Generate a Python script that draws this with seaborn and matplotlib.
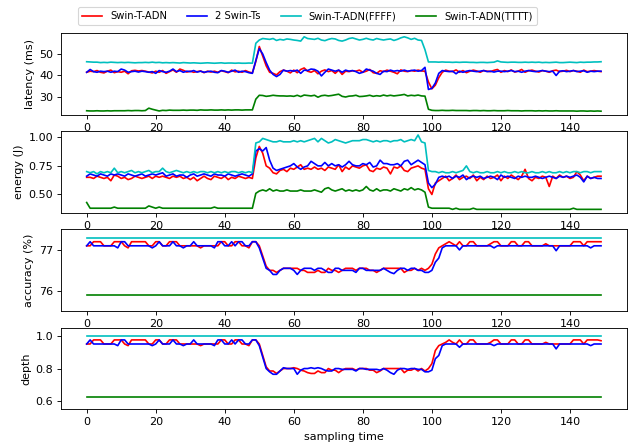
import matplotlib
matplotlib.use("Agg")
import matplotlib.pyplot as plt
import seaborn as sns

# sampling steps
t = list(range(150))

labels = ["Swin-T-ADN", "2 Swin-Ts", "Swin-T-ADN(FFFF)", "Swin-T-ADN(TTTT)"]
colors = ["r", "b", "c", "g"]

# ---- latency (ms) ----
lat_adn = [
    41.5, 42.0, 41.8, 42.3, 41.5, 41.2, 42.0, 42.5, 41.3, 41.8,
    41.5, 42.0, 40.8, 42.2, 42.4, 42.1, 42.3, 42.0, 41.6, 41.2,
    42.0, 41.5, 42.3, 41.0, 41.8, 42.6, 41.5, 43.0, 42.4, 41.6,
    42.0, 41.5, 41.8, 42.1, 41.3, 42.0, 41.6, 42.0, 41.5, 42.2,
    41.8, 41.3, 42.5, 41.7, 42.0, 41.5, 42.3, 41.6, 41.2, 46.5,
    53.5, 49.0, 44.5, 41.5, 41.0, 40.3, 41.8, 42.5, 42.0, 41.2,
    42.5, 41.3, 42.8, 43.5, 42.0, 41.5, 42.3, 40.8, 42.0, 42.6,
    41.8, 42.3, 41.0, 42.5, 40.5, 42.0, 41.8, 42.2, 42.0, 42.5,
    41.5, 42.0, 42.8, 41.3, 41.0, 42.2, 41.8, 42.5, 42.0, 41.5,
    40.8, 42.6, 42.0, 41.8, 42.3, 42.0, 42.5, 42.1, 42.0, 37.0,
    33.8, 35.5, 39.0, 41.5, 42.5, 42.0, 41.8, 42.6, 41.5, 42.3,
    41.3, 42.0, 42.5, 42.1, 41.5, 42.3, 42.0, 41.8, 42.4, 42.8,
    41.5, 42.3, 41.8, 42.6, 41.6, 42.0, 42.8, 41.5, 42.2, 42.5,
    42.0, 41.6, 42.3, 42.0, 41.5, 42.2, 42.5, 41.8, 42.0, 42.4,
    41.8, 42.3, 42.0, 41.5, 42.5, 41.8, 42.0, 42.3, 42.0, 41.8,
]
lat_two = [
    41.5, 42.8, 41.8, 41.5, 42.0, 41.8, 42.0, 41.5, 42.0, 41.8,
    43.0, 42.5, 41.5, 41.8, 42.0, 41.6, 42.0, 41.8, 41.5, 41.8,
    41.0, 42.3, 41.8, 41.5, 42.0, 43.0, 41.8, 42.3, 41.5, 42.0,
    41.8, 42.3, 41.6, 42.0, 41.5, 41.8, 42.0, 41.5, 41.3, 42.3,
    42.0, 41.5, 42.0, 42.5, 41.5, 42.0, 41.8, 41.3, 41.0, 47.0,
    52.5, 50.0, 46.0, 42.5, 40.5, 39.5, 40.5, 42.5, 42.0, 42.3,
    42.0, 42.5, 41.0, 42.5, 42.3, 43.0, 42.8, 42.0, 39.8, 41.5,
    43.0, 42.5, 42.0, 42.5, 41.5, 42.5, 42.0, 42.3, 41.8, 41.0,
    41.5, 43.0, 42.5, 42.0, 41.0, 40.5, 42.0, 41.8, 42.5, 42.0,
    42.3, 42.0, 42.5, 42.0, 42.3, 42.5, 42.0, 42.3, 43.8, 33.5,
    34.0, 36.5, 41.0, 42.3, 42.0, 41.8, 42.0, 40.8, 42.0, 41.5,
    42.0, 42.3, 42.0, 41.8, 42.0, 42.3, 41.8, 42.0, 41.6, 42.0,
    42.0, 41.8, 42.0, 42.3, 41.8, 42.0, 41.5, 42.0, 42.3, 42.0,
    41.8, 42.0, 42.3, 42.0, 41.8, 42.0, 40.0, 42.0, 42.2, 41.8,
    42.0, 42.3, 41.8, 42.0, 42.2, 41.5, 42.0, 41.8, 42.0, 42.0,
]
lat_ffff = [
    46.4, 46.3, 46.2, 46.2, 46.0, 46.1, 46.0, 46.2, 46.1, 46.0,
    46.1, 46.0, 46.1, 46.0, 45.9, 46.0, 46.0, 46.1, 46.0, 46.2,
    46.0, 46.1, 45.9, 46.0, 45.9, 46.0, 45.9, 45.8, 46.0, 45.9,
    45.8, 45.9, 45.8, 45.7, 45.8, 45.9, 45.8, 45.7, 45.8, 45.9,
    45.7, 45.8, 45.8, 45.7, 45.8, 45.7, 45.7, 45.8, 45.7, 55.0,
    56.5, 57.2, 57.0, 56.8, 57.2, 56.3, 56.8, 56.5, 57.0, 56.8,
    56.5, 56.3, 56.0, 58.0, 57.2, 57.0, 56.8, 57.3, 56.5, 56.2,
    56.8, 57.2, 57.0, 56.3, 56.0, 56.5, 57.2, 57.5, 57.0, 56.5,
    56.8, 57.3, 56.8, 56.5, 57.2, 56.8, 56.5, 56.8, 57.0, 56.3,
    56.8, 57.5, 58.0, 57.5, 56.8, 57.3, 56.5, 56.3, 52.0, 46.3,
    46.3, 46.3, 46.2, 46.3, 46.2, 46.2, 46.1, 46.2, 46.1, 46.2,
    46.2, 46.1, 46.1, 46.0, 46.1, 46.1, 46.0, 46.1, 46.2, 46.8,
    46.3, 46.2, 46.1, 46.2, 46.2, 46.1, 46.1, 46.2, 46.1, 46.2,
    46.1, 46.2, 46.0, 46.1, 46.0, 46.1, 46.2, 46.0, 46.0, 46.1,
    46.2, 46.1, 46.0, 46.2, 46.1, 46.2, 46.2, 46.3, 46.3, 46.4,
]
lat_tttt = [
    23.6, 23.5, 23.5, 23.6, 23.5, 23.5, 23.6, 23.5, 23.6, 23.6,
    23.6, 23.6, 23.7, 23.6, 23.7, 23.7, 23.6, 23.7, 24.8, 24.3,
    23.9, 23.5, 23.8, 23.7, 23.9, 23.8, 23.8, 23.8, 23.9, 23.8,
    23.9, 23.9, 23.8, 24.0, 23.9, 23.9, 24.0, 23.9, 23.9, 24.0,
    23.9, 24.0, 23.9, 24.0, 24.0, 23.9, 24.0, 24.0, 24.0, 29.0,
    30.8, 30.7, 30.3, 30.5, 30.8, 30.6, 30.5, 30.5, 30.4, 30.5,
    30.3, 30.8, 30.2, 30.9, 30.7, 30.5, 30.8, 29.9, 30.6, 30.8,
    30.5, 30.7, 31.0, 31.3, 30.3, 30.0, 30.4, 30.5, 30.8, 30.2,
    30.3, 30.5, 30.8, 30.3, 30.6, 30.4, 30.9, 30.5, 30.8, 30.5,
    30.7, 30.9, 31.2, 30.5, 30.8, 30.6, 30.9, 30.5, 30.4, 24.3,
    23.8, 23.7, 23.7, 23.8, 23.7, 23.7, 23.8, 23.7, 23.7, 23.7,
    23.7, 23.6, 23.7, 23.7, 23.6, 23.7, 23.6, 23.6, 23.7, 23.6,
    23.6, 23.6, 23.7, 23.6, 23.6, 23.6, 23.5, 23.6, 23.6, 23.6,
    23.5, 23.6, 23.5, 23.6, 23.5, 23.5, 23.6, 23.5, 23.5, 23.5,
    23.5, 23.5, 23.4, 23.5, 23.5, 23.4, 23.5, 23.4, 23.5, 23.4,
]

# ---- energy (J) ----
en_adn = [
    0.65, 0.65, 0.64, 0.66, 0.65, 0.64, 0.65, 0.62, 0.67, 0.66,
    0.64, 0.65, 0.63, 0.64, 0.66, 0.65, 0.64, 0.65, 0.66, 0.64,
    0.66, 0.65, 0.66, 0.65, 0.64, 0.66, 0.65, 0.66, 0.64, 0.65,
    0.63, 0.65, 0.62, 0.64, 0.66, 0.64, 0.63, 0.66, 0.65, 0.64,
    0.66, 0.63, 0.65, 0.64, 0.66, 0.65, 0.64, 0.65, 0.64, 0.82,
    0.92, 0.86, 0.75, 0.73, 0.69, 0.68, 0.71, 0.72, 0.70, 0.73,
    0.72, 0.74, 0.76, 0.72, 0.73, 0.72, 0.74, 0.72, 0.73, 0.71,
    0.74, 0.73, 0.72, 0.76, 0.70, 0.74, 0.72, 0.75, 0.74, 0.73,
    0.75, 0.76, 0.71, 0.70, 0.73, 0.72, 0.74, 0.73, 0.68, 0.74,
    0.73, 0.75, 0.71, 0.70, 0.73, 0.74, 0.75, 0.73, 0.72, 0.55,
    0.50, 0.60, 0.62, 0.64, 0.66, 0.62, 0.64, 0.67, 0.63, 0.65,
    0.66, 0.64, 0.67, 0.62, 0.65, 0.63, 0.66, 0.64, 0.65, 0.67,
    0.62, 0.66, 0.64, 0.67, 0.65, 0.63, 0.66, 0.72, 0.64, 0.62,
    0.65, 0.64, 0.66, 0.65, 0.57, 0.66, 0.64, 0.67, 0.65, 0.66,
    0.64, 0.65, 0.70, 0.67, 0.62, 0.66, 0.64, 0.65, 0.66, 0.66,
]
en_two = [
    0.66, 0.68, 0.67, 0.66, 0.68, 0.67, 0.66, 0.68, 0.67, 0.68,
    0.67, 0.66, 0.68, 0.67, 0.66, 0.67, 0.68, 0.66, 0.67, 0.68,
    0.67, 0.68, 0.69, 0.66, 0.67, 0.68, 0.66, 0.67, 0.67, 0.65,
    0.67, 0.68, 0.66, 0.67, 0.68, 0.67, 0.66, 0.68, 0.67, 0.67,
    0.66, 0.68, 0.67, 0.66, 0.67, 0.68, 0.67, 0.66, 0.68, 0.88,
    0.90, 0.88, 0.91, 0.80, 0.73, 0.71, 0.72, 0.73, 0.74, 0.75,
    0.77, 0.74, 0.72, 0.74, 0.75, 0.79, 0.77, 0.75, 0.75, 0.78,
    0.75, 0.77, 0.75, 0.76, 0.74, 0.76, 0.79, 0.76, 0.75, 0.75,
    0.77, 0.76, 0.78, 0.74, 0.75, 0.80, 0.77, 0.77, 0.76, 0.76,
    0.77, 0.75, 0.79, 0.80, 0.76, 0.78, 0.80, 0.78, 0.76, 0.60,
    0.56, 0.59, 0.65, 0.66, 0.65, 0.66, 0.64, 0.66, 0.65, 0.67,
    0.63, 0.65, 0.66, 0.65, 0.66, 0.64, 0.65, 0.66, 0.65, 0.63,
    0.67, 0.65, 0.66, 0.65, 0.64, 0.66, 0.65, 0.66, 0.65, 0.65,
    0.66, 0.65, 0.64, 0.65, 0.66, 0.65, 0.64, 0.66, 0.65, 0.66,
    0.65, 0.66, 0.67, 0.65, 0.61, 0.66, 0.64, 0.65, 0.64, 0.64,
]
en_ffff = [
    0.70, 0.69, 0.70, 0.68, 0.70, 0.69, 0.70, 0.69, 0.73, 0.69,
    0.70, 0.69, 0.70, 0.71, 0.69, 0.70, 0.69, 0.70, 0.71, 0.69,
    0.70, 0.70, 0.73, 0.70, 0.69, 0.70, 0.71, 0.70, 0.69, 0.70,
    0.69, 0.70, 0.69, 0.70, 0.70, 0.69, 0.70, 0.69, 0.70, 0.69,
    0.70, 0.69, 0.70, 0.70, 0.69, 0.70, 0.69, 0.70, 0.69, 0.95,
    0.96, 0.99, 0.98, 0.97, 0.96, 0.96, 0.97, 0.96, 0.96, 0.96,
    0.97, 0.96, 0.97, 0.96, 0.97, 0.98, 0.99, 0.96, 0.99, 0.97,
    0.95, 0.96, 0.98, 0.97, 0.96, 0.95, 0.96, 0.97, 0.97, 0.97,
    0.98, 0.98, 0.97, 0.96, 0.97, 0.96, 0.97, 0.97, 0.96, 0.97,
    0.97, 0.98, 0.96, 0.97, 0.98, 0.97, 1.02, 0.96, 0.95, 0.71,
    0.70, 0.70, 0.69, 0.70, 0.69, 0.69, 0.70, 0.69, 0.70, 0.71,
    0.75, 0.70, 0.69, 0.70, 0.69, 0.69, 0.70, 0.69, 0.69, 0.70,
    0.69, 0.70, 0.69, 0.69, 0.70, 0.69, 0.70, 0.69, 0.69, 0.70,
    0.69, 0.69, 0.70, 0.69, 0.70, 0.69, 0.69, 0.70, 0.69, 0.70,
    0.69, 0.70, 0.70, 0.69, 0.70, 0.70, 0.69, 0.70, 0.70, 0.70,
]
en_tttt = [
    0.43, 0.38, 0.38, 0.38, 0.38, 0.38, 0.38, 0.38, 0.39, 0.38,
    0.38, 0.38, 0.38, 0.38, 0.38, 0.38, 0.38, 0.38, 0.40, 0.39,
    0.38, 0.39, 0.38, 0.38, 0.38, 0.38, 0.38, 0.38, 0.38, 0.38,
    0.38, 0.38, 0.38, 0.38, 0.38, 0.38, 0.38, 0.39, 0.38, 0.38,
    0.38, 0.38, 0.38, 0.38, 0.38, 0.38, 0.38, 0.38, 0.38, 0.51,
    0.53, 0.54, 0.53, 0.55, 0.53, 0.54, 0.53, 0.53, 0.54, 0.53,
    0.53, 0.53, 0.54, 0.53, 0.53, 0.53, 0.54, 0.53, 0.52, 0.55,
    0.56, 0.54, 0.53, 0.54, 0.55, 0.53, 0.54, 0.53, 0.54, 0.53,
    0.54, 0.57, 0.54, 0.53, 0.55, 0.53, 0.54, 0.54, 0.53, 0.55,
    0.54, 0.53, 0.55, 0.54, 0.56, 0.54, 0.55, 0.54, 0.52, 0.39,
    0.38, 0.38, 0.38, 0.38, 0.38, 0.38, 0.37, 0.38, 0.37, 0.37,
    0.37, 0.37, 0.38, 0.37, 0.37, 0.37, 0.37, 0.37, 0.37, 0.37,
    0.37, 0.37, 0.37, 0.37, 0.37, 0.37, 0.37, 0.37, 0.37, 0.37,
    0.37, 0.37, 0.37, 0.37, 0.37, 0.37, 0.37, 0.37, 0.37, 0.37,
    0.37, 0.38, 0.37, 0.37, 0.37, 0.37, 0.37, 0.37, 0.37, 0.37,
]

# ---- accuracy (%) ----
acc_adn = [
    77.1, 77.1, 77.2, 77.2, 77.2, 77.1, 77.1, 77.1, 77.2, 77.2,
    77.2, 77.1, 77.05, 77.2, 77.2, 77.2, 77.2, 77.2, 77.1, 77.1,
    77.2, 77.2, 77.1, 77.1, 77.2, 77.2, 77.2, 77.1, 77.1, 77.1,
    77.1, 77.1, 77.1, 77.05, 77.1, 77.1, 77.1, 77.1, 77.1, 77.2,
    77.2, 77.1, 77.1, 77.2, 77.2, 77.1, 77.1, 77.05, 77.2, 77.2,
    77.1, 76.85, 76.6, 76.5, 76.5, 76.45, 76.5, 76.55, 76.55, 76.55,
    76.55, 76.55, 76.5, 76.5, 76.45, 76.45, 76.45, 76.5, 76.45, 76.45,
    76.55, 76.5, 76.5, 76.45, 76.5, 76.55, 76.55, 76.55, 76.5, 76.55,
    76.55, 76.55, 76.5, 76.5, 76.45, 76.5, 76.55, 76.55, 76.55, 76.55,
    76.55, 76.55, 76.45, 76.5, 76.5, 76.55, 76.5, 76.55, 76.5, 76.55,
    76.65, 76.9, 77.05, 77.1, 77.15, 77.2, 77.15, 77.1, 77.2, 77.1,
    77.1, 77.2, 77.2, 77.1, 77.1, 77.1, 77.1, 77.15, 77.2, 77.2,
    77.1, 77.1, 77.1, 77.2, 77.2, 77.1, 77.1, 77.2, 77.2, 77.1,
    77.1, 77.1, 77.1, 77.15, 77.1, 77.1, 77.1, 77.1, 77.1, 77.1,
    77.1, 77.2, 77.2, 77.2, 77.1, 77.2, 77.2, 77.2, 77.2, 77.2,
]
acc_two = [
    77.1, 77.2, 77.1, 77.1, 77.1, 77.1, 77.1, 77.1, 77.1, 77.05,
    77.2, 77.2, 77.1, 77.1, 77.1, 77.1, 77.1, 77.1, 77.1, 77.05,
    77.1, 77.2, 77.1, 77.1, 77.1, 77.2, 77.1, 77.1, 77.05, 77.1,
    77.1, 77.2, 77.1, 77.1, 77.1, 77.1, 77.1, 77.05, 77.2, 77.2,
    77.1, 77.1, 77.2, 77.1, 77.2, 77.2, 77.1, 77.1, 77.2, 77.2,
    77.05, 76.8, 76.55, 76.5, 76.4, 76.4, 76.5, 76.55, 76.55, 76.55,
    76.5, 76.4, 76.5, 76.55, 76.55, 76.55, 76.5, 76.55, 76.55, 76.5,
    76.45, 76.45, 76.55, 76.55, 76.5, 76.5, 76.5, 76.5, 76.45, 76.55,
    76.55, 76.5, 76.5, 76.5, 76.5, 76.5, 76.55, 76.5, 76.45, 76.42,
    76.5, 76.55, 76.55, 76.5, 76.55, 76.55, 76.5, 76.5, 76.45, 76.45,
    76.5, 76.7, 76.8, 77.05, 77.1, 77.1, 77.1, 77.1, 77.0, 77.1,
    77.1, 77.1, 77.1, 77.1, 77.1, 77.1, 77.1, 77.1, 77.05, 77.1,
    77.1, 77.1, 77.1, 77.1, 77.1, 77.1, 77.1, 77.1, 77.1, 77.1,
    77.1, 77.1, 77.1, 77.1, 77.1, 77.1, 76.98, 77.1, 77.1, 77.1,
    77.1, 77.1, 77.1, 77.1, 77.1, 77.1, 77.05, 77.1, 77.1, 77.1,
]
acc_ffff = [77.3] * 150
acc_tttt = [75.9] * 150

# ---- depth ----
dep_adn = [
    0.95, 0.95, 0.975, 0.975, 0.975, 0.95, 0.95, 0.95, 0.975, 0.975,
    0.975, 0.95, 0.94, 0.975, 0.975, 0.975, 0.975, 0.975, 0.95, 0.95,
    0.975, 0.975, 0.95, 0.95, 0.975, 0.975, 0.975, 0.95, 0.95, 0.95,
    0.95, 0.95, 0.95, 0.94, 0.95, 0.95, 0.95, 0.95, 0.95, 0.975,
    0.975, 0.95, 0.95, 0.975, 0.975, 0.95, 0.95, 0.94, 0.975, 0.975,
    0.95, 0.88, 0.81, 0.785, 0.785, 0.77, 0.785, 0.80, 0.80, 0.80,
    0.805, 0.80, 0.79, 0.785, 0.775, 0.77, 0.77, 0.785, 0.775, 0.775,
    0.80, 0.79, 0.79, 0.775, 0.79, 0.80, 0.80, 0.80, 0.79, 0.80,
    0.80, 0.80, 0.79, 0.79, 0.775, 0.785, 0.80, 0.80, 0.80, 0.80,
    0.80, 0.80, 0.775, 0.79, 0.79, 0.80, 0.785, 0.80, 0.785, 0.80,
    0.83, 0.91, 0.94, 0.95, 0.96, 0.975, 0.96, 0.95, 0.975, 0.95,
    0.95, 0.975, 0.975, 0.95, 0.95, 0.95, 0.95, 0.96, 0.975, 0.975,
    0.95, 0.95, 0.95, 0.975, 0.975, 0.95, 0.95, 0.975, 0.975, 0.95,
    0.95, 0.95, 0.95, 0.96, 0.95, 0.95, 0.95, 0.95, 0.95, 0.95,
    0.95, 0.975, 0.975, 0.975, 0.95, 0.975, 0.975, 0.975, 0.975, 0.97,
]
dep_two = [
    0.95, 0.975, 0.95, 0.95, 0.95, 0.95, 0.95, 0.95, 0.95, 0.94,
    0.975, 0.975, 0.95, 0.95, 0.95, 0.95, 0.95, 0.95, 0.95, 0.94,
    0.95, 0.975, 0.95, 0.95, 0.95, 0.975, 0.95, 0.95, 0.94, 0.95,
    0.95, 0.975, 0.95, 0.95, 0.95, 0.95, 0.95, 0.94, 0.975, 0.975,
    0.95, 0.95, 0.975, 0.95, 0.975, 0.975, 0.95, 0.95, 0.975, 0.975,
    0.94, 0.87, 0.80, 0.78, 0.765, 0.765, 0.785, 0.805, 0.80, 0.80,
    0.80, 0.765, 0.79, 0.80, 0.80, 0.805, 0.80, 0.805, 0.80, 0.79,
    0.785, 0.785, 0.80, 0.80, 0.795, 0.795, 0.795, 0.795, 0.785, 0.80,
    0.80, 0.795, 0.795, 0.795, 0.795, 0.79, 0.80, 0.79, 0.775, 0.765,
    0.79, 0.80, 0.80, 0.795, 0.80, 0.80, 0.795, 0.795, 0.78, 0.78,
    0.79, 0.86, 0.88, 0.94, 0.95, 0.95, 0.95, 0.95, 0.93, 0.95,
    0.95, 0.95, 0.95, 0.95, 0.95, 0.95, 0.95, 0.95, 0.94, 0.95,
    0.95, 0.95, 0.95, 0.95, 0.95, 0.95, 0.95, 0.95, 0.95, 0.95,
    0.95, 0.95, 0.95, 0.95, 0.95, 0.95, 0.92, 0.95, 0.95, 0.95,
    0.95, 0.95, 0.95, 0.95, 0.95, 0.95, 0.94, 0.95, 0.95, 0.95,
]
dep_ffff = [1.0] * 150
dep_tttt = [0.625] * 150

panels = [
    ("latency (ms)", [lat_adn, lat_two, lat_ffff, lat_tttt]),
    ("energy (J)", [en_adn, en_two, en_ffff, en_tttt]),
    ("accuracy (%)", [acc_adn, acc_two, acc_ffff, acc_tttt]),
    ("depth", [dep_adn, dep_two, dep_ffff, dep_tttt]),
]

# 635x447 px at 80 dpi
fig, axes = plt.subplots(4, 1, figsize=(635 / 80, 447 / 80), dpi=80)
fig.subplots_adjust(left=0.096, right=0.987, top=0.926, bottom=0.084, hspace=0.2)

for i, (ax, (ylab, series)) in enumerate(zip(axes, panels)):
    for vals, lab, c in zip(series, labels, colors):
        sns.lineplot(x=t, y=vals, color=c, ax=ax, label=lab if i == 0 else None)
    if ax.get_legend() is not None:
        ax.get_legend().remove()
    ax.set_ylabel(ylab)
    ax.set_xticks([0, 20, 40, 60, 80, 100, 120, 140])

axes[0].set_yticks([30, 40, 50])
axes[1].set_yticks([0.50, 0.75, 1.00])
axes[2].set_ylim(75.5, 77.5)
axes[2].set_yticks([76, 77])
axes[3].set_ylim(0.55, 1.05)
axes[3].set_yticks([0.6, 0.8, 1.0])
axes[3].set_xlabel("sampling time")

handles, labs = axes[0].get_legend_handles_labels()
fig.legend(handles, labs, loc="upper center", bbox_to_anchor=(0.484, 0.995),
           ncol=4, fontsize=9)

plt.savefig("out.png", dpi=80)
